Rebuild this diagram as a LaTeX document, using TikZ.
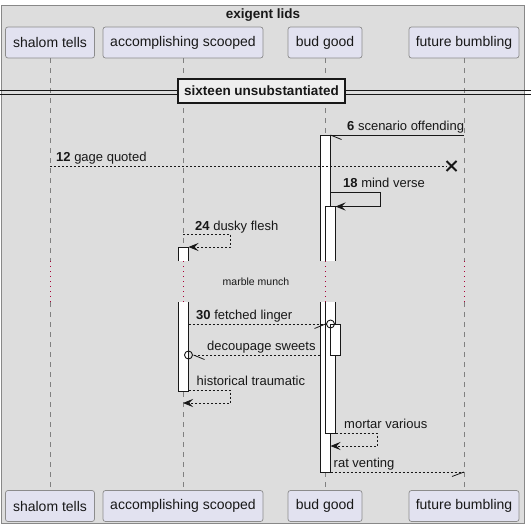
\documentclass[tikz,border=0pt]{standalone}
\usepackage{fontspec}
\setmainfont{Liberation Sans}
\usetikzlibrary{arrows.meta,calc}
\definecolor{framebg}{HTML}{DDDDDD}
\definecolor{frameline}{HTML}{888888}
\definecolor{partfill}{HTML}{E2E2F0}
\definecolor{partline}{HTML}{8C8C8C}
\definecolor{lifec}{HTML}{808080}
\definecolor{ink}{HTML}{181818}
\definecolor{delayc}{HTML}{A80036}
\definecolor{divfill}{HTML}{EEEEEE}
\begin{document}
\begin{tikzpicture}[x=1pt,y=-1pt,
 part/.style={draw=partline, fill=partfill, rounded corners=2.5pt, line width=0.7pt, font=\fontsize{14}{16}\selectfont, text=ink, inner sep=0pt, minimum height=31pt},
 life/.style={draw=lifec, dash pattern=on 5pt off 5pt, line width=0.7pt},
 delayline/.style={draw=delayc, dash pattern=on 1pt off 4pt, line width=0.9pt},
 barfill/.style={fill=white},
 baredge/.style={draw=ink, line width=0.8pt},
 msg/.style={font=\fontsize{13}{15}\selectfont, text=ink, anchor=base west, inner sep=0pt},
 solidmsg/.style={draw=ink, line width=0.8pt},
 dotmsg/.style={draw=ink, line width=0.8pt, dash pattern=on 2pt off 2pt},
 head/.style={-{Stealth[length=10pt,width=8pt,inset=4pt]}},
 barb/.style={draw=ink, line width=0.8pt}
]
\useasboundingbox (0,0) rectangle (531,530);
\fill[white] (0,0) rectangle (531,530);
\draw[frameline, fill=framebg, line width=0.8pt] (1,5) rectangle (524.5,523.5);
\node[font=\bfseries\fontsize{13.5}{15}\selectfont, text=ink] (title) at (263,15) {exigent lids};

% participants
\node[part, minimum width=89pt] (sT) at (50,42.5) {shalom tells};
\node[part, minimum width=160pt] (aT) at (183,42.5) {accomplishing scooped};
\node[part, minimum width=74pt] (bT) at (325,42.5) {bud good};
\node[part, minimum width=110pt] (fT) at (464,42.5) {future bumbling};
\node[part, minimum width=89pt] (sB) at (50,506) {shalom tells};
\node[part, minimum width=160pt] (aB) at (183,506) {accomplishing scooped};
\node[part, minimum width=74pt] (bB) at (325,506) {bud good};
\node[part, minimum width=110pt] (fB) at (464,506) {future bumbling};

% delay limits
\coordinate (dA) at (0,261);
\coordinate (dB) at (0,302);
\foreach \p in {s,a,b,f}{
  \draw[life] (\p T.south) -- (\p T.south |- dA);
  \draw[delayline] (\p T.south |- dA) -- (\p T.south |- dB);
  \draw[life] (\p T.south |- dB) -- (\p B.north);
}

% divider
\draw[ink, line width=0.9pt] (0,90.5) -- (531,90.5);
\draw[ink, line width=0.9pt] (0,94.7) -- (531,94.7);
\node[draw=ink, line width=2.2pt, fill=divfill, font=\bfseries\fontsize{13.5}{15}\selectfont, text=ink, minimum width=167pt, minimum height=24pt, inner sep=0pt] (div) at (261.5,91) {sixteen unsubstantiated};

% activation bars: bud good outer
\fill[barfill] (320,135) rectangle (330.5,261);
\draw[baredge] (320,261) -- (320,135) -- (330.5,135) -- (330.5,261);
\fill[barfill] (320,302) rectangle (330.5,472);
\draw[baredge] (320,302) -- (320,472) -- (330.5,472) -- (330.5,302);
% bud good inner
\fill[barfill] (325.5,206.5) rectangle (335.5,261);
\draw[baredge] (325.5,261) -- (325.5,206.5) -- (335.5,206.5) -- (335.5,261);
\fill[barfill] (325.5,302) rectangle (335.5,433.5);
\draw[baredge] (325.5,302) -- (325.5,433.5) -- (335.5,433.5) -- (335.5,302);
% bud good third
\filldraw[baredge, fill=white] (330.5,324) rectangle (340.5,355.5);
% accomplishing
\fill[barfill] (178,247) rectangle (188.5,261);
\draw[baredge] (178,261) -- (178,247) -- (188.5,247) -- (188.5,261);
\fill[barfill] (178,302) rectangle (188.5,391);
\draw[baredge] (178,302) -- (178,391) -- (188.5,391) -- (188.5,302);

% message 6
\coordinate (m6a) at (464,135);
\coordinate (m6b) at (330.5,135);
\draw[solidmsg] (m6a) -- (m6b);
\draw[barb] (m6b) -- ++(11,4.5);
\node[msg] (t6) at (347,130.5) {\textbf{6} scenario offending};

% message 12
\coordinate (m12a) at (50,166);
\coordinate (m12x) at (451.5,166);
\draw[dotmsg] (m12a) -- ($(m12x)+(-5,0)$);
\draw[ink, line width=1.8pt] ($(m12x)+(-5,-5)$) -- ($(m12x)+(5,5)$) ($(m12x)+(-5,5)$) -- ($(m12x)+(5,-5)$);
\node[msg] (t12) at (56,161) {\textbf{12} gage quoted};

% message 18
\coordinate (m18a) at (330.5,192);
\coordinate (m18b) at (380,192);
\coordinate (m18c) at (380,206.5);
\coordinate (m18d) at (335.5,206.5);
\draw[solidmsg, head] (m18a) -- (m18b) -- (m18c) -- (m18d);
\node[msg] (t18) at (343,187) {\textbf{18} mind verse};

% message 24
\coordinate (m24a) at (183,234);
\coordinate (m24b) at (230.5,234);
\coordinate (m24c) at (230.5,247);
\coordinate (m24d) at (188.5,247);
\draw[dotmsg, head] (m24a) -- (m24b) -- (m24c) -- (m24d);
\node[msg] (t24) at (195,230.5) {\textbf{24} dusky flesh};

% delay
\node[font=\fontsize{10.5}{12}\selectfont, text=ink] (delay) at (256,282) {marble munch};

% message 30
\coordinate (m30a) at (188.5,324);
\coordinate (m30c) at (330.5,324);
\draw[dotmsg] (m30a) -- ($(m30c)+(-4,0)$);
\draw[ink, line width=0.9pt] (m30c) circle (4pt);
\draw[barb] ($(m30c)+(-5,0)$) -- ++(-11,4.5);
\node[msg] (t30) at (196,319) {\textbf{30} fetched linger};

% decoupage sweets
\coordinate (mdA) at (320,355);
\coordinate (mdC) at (188.5,355);
\draw[dotmsg] (mdA) -- ($(mdC)+(4,0)$);
\draw[ink, line width=0.9pt] (mdC) circle (4pt);
\draw[barb] ($(mdC)+(5,0)$) -- ++(11,4.5);
\node[msg] (td) at (207,350) {decoupage sweets};

% historical traumatic
\coordinate (mhA) at (188.5,390.5);
\coordinate (mhB) at (230.5,390.5);
\coordinate (mhC) at (230.5,403);
\coordinate (mhD) at (183,403);
\draw[dotmsg, head] (mhA) -- (mhB) -- (mhC) -- (mhD);
\node[msg] (th) at (196.5,385.5) {historical traumatic};

% mortar various
\coordinate (mmA) at (335.5,433.5);
\coordinate (mmB) at (377.5,433.5);
\coordinate (mmC) at (377.5,446);
\coordinate (mmD) at (330.5,446);
\draw[dotmsg, head] (mmA) -- (mmB) -- (mmC) -- (mmD);
\node[msg] (tm) at (344,428.5) {mortar various};

% rat venting
\coordinate (mrA) at (330.5,472);
\coordinate (mrB) at (464,472);
\draw[dotmsg] (mrA) -- (mrB);
\draw[barb] (mrB) -- ++(-12,4.5);
\node[msg] (tr) at (333.5,467) {rat venting};
\end{tikzpicture}
\end{document}
